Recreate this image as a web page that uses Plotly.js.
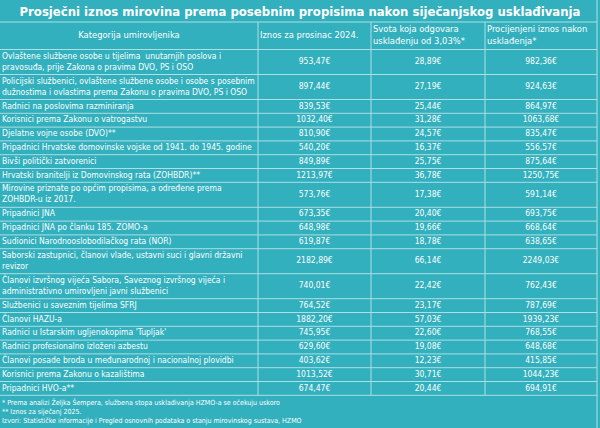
<!DOCTYPE html>
<html>
<head>
<meta charset="utf-8">
<script src="https://cdn.plot.ly/plotly-3.0.1.min.js"></script>
<style>html,body{margin:0;padding:0;background:#31b0bd;}#chart{width:600px;height:428px;}</style>
</head>
<body>
<div id="chart"></div>
<script>
const titleText = "Prosječni iznos mirovina prema posebnim propisima nakon siječanjskog usklađivanja";
const headers = ["Kategorija umirovljenika", "Iznos za prosinac 2024.", "Svota koja odgovara<br>usklađenju od 3,03%*", "Procijenjeni iznos nakon<br>usklađenja*"];
const categories = [
  "Ovlaštene službene osobe u tijelima  unutarnjih poslova i<br>pravosuđa, prije Zakona o pravima DVO, PS i OSO",
  "Policijski službenici, ovlaštene službene osobe i osobe s posebnim<br>dužnostima i ovlastima prema Zakonu o pravima DVO, PS i OSO",
  "Radnici na poslovima razminiranja",
  "Korisnici prema Zakonu o vatrogastvu",
  "Djelatne vojne osobe (DVO)**",
  "Pripadnici Hrvatske domovinske vojske od 1941. do 1945. godine",
  "Bivši politički zatvorenici",
  "Hrvatski branitelji iz Domovinskog rata (ZOHBDR)**",
  "Mirovine priznate po općim propisima, a određene prema<br>ZOHBDR-u iz 2017.",
  "Pripadnici JNA",
  "Pripadnici JNA po članku 185. ZOMO-a",
  "Sudionici Narodnooslobodilačkog rata (NOR)",
  "Saborski zastupnici, članovi vlade, ustavni suci i glavni državni<br>revizor",
  "Članovi izvršnog vijeća Sabora, Saveznog izvršnog vijeća i<br>administrativno umirovljeni javni službenici",
  "Službenici u saveznim tijelima SFRJ",
  "Članovi HAZU-a",
  "Radnici u Istarskim ugljenokopima 'Tupljak'",
  "Radnici profesionalno izloženi azbestu",
  "Članovi posade broda u međunarodnoj i nacionalnoj plovidbi",
  "Korisnici prema Zakonu o kazalištima",
  "Pripadnici HVO-a**"
];
const amountDec2024 = [953.47, 897.44, 839.53, 1032.40, 810.90, 540.20, 849.89, 1213.97, 573.76, 673.35, 648.98, 619.87, 2182.89, 740.01, 764.52, 1882.20, 745.95, 629.60, 403.62, 1013.52, 674.47];
const adjustment303 = [28.89, 27.19, 25.44, 31.28, 24.57, 16.37, 25.75, 36.78, 17.38, 20.40, 19.66, 18.78, 66.14, 22.42, 23.17, 57.03, 22.60, 19.08, 12.23, 30.71, 20.44];
const estimatedAfter = [982.36, 924.63, 864.97, 1063.68, 835.47, 556.57, 875.64, 1250.75, 591.14, 693.75, 668.64, 638.65, 2249.03, 762.43, 787.69, 1939.23, 768.55, 648.68, 415.85, 1044.23, 694.91];
const footnotes = [
  "* Prema analizi Željka Šempera, službena stopa usklađivanja HZMO-a se očekuju uskoro",
  "** Iznos za siječanj 2025.",
  "Izvori: Statističke informacije i Pregled osnovnih podataka o stanju mirovinskog sustava, HZMO"
];

// ---- styling / layout (not data) ----
const fmt = v => v.toFixed(2).replace('.', ',') + '€';
const TEAL = '#32b0bd';
const LINE = '#addfe5';
const FONT = '"Liberation Sans Narrow", "DejaVu Sans Condensed", Roboto, sans-serif';
const W = 600, H = 428;
const colEdges = [0, 258, 371, 485, 597];
const titleBottom = 22, headerBottom = 49.5;
const singleH = 13.8, doubleH = 25;

const lineCount = s => s.split('<br>').length;
const rowH = categories.map(c => lineCount(c) > 1 ? doubleH : singleH);
const rowTops = [];
let acc = headerBottom;
rowH.forEach(h => { rowTops.push(acc); acc += h; });
const tableBottom = acc;
const rowCenters = rowTops.map((t, i) => t + rowH[i] / 2);
const colCenter = j => (colEdges[j] + colEdges[j + 1]) / 2;

const bodyFont = {family: FONT, size: 8.5, color: 'white'};
const textTrace = (xs, ys, texts, pos, font) => ({
  type: 'scatter', mode: 'text', x: xs, y: ys, text: texts,
  textposition: pos, textfont: font, hoverinfo: 'skip', showlegend: false, cliponaxis: false
});

const traces = [
  textTrace(categories.map(() => colEdges[0] + 2), rowCenters, categories, 'middle right', bodyFont),
  textTrace(amountDec2024.map(() => colCenter(1)), rowCenters, amountDec2024.map(fmt), 'middle center', bodyFont),
  textTrace(adjustment303.map(() => colCenter(2)), rowCenters, adjustment303.map(fmt), 'middle center', bodyFont),
  textTrace(estimatedAfter.map(() => colCenter(3)), rowCenters, estimatedAfter.map(fmt), 'middle center', bodyFont),
  textTrace(
    headers.map((h, j) => j === 0 ? colCenter(0) : colEdges[j] + 2),
    headers.map(() => (titleBottom + headerBottom) / 2),
    headers,
    headers.map((h, j) => j === 0 ? 'middle center' : 'middle right'),
    {family: FONT, size: 9.3, color: 'white'}
  )
];

const shapes = [];
const hline = (y, x0, x1) => shapes.push({type: 'line', xref: 'x', yref: 'y', x0: x0, x1: x1, y0: y, y1: y, line: {color: LINE, width: 1}});
const vline = (x, y0, y1) => shapes.push({type: 'line', xref: 'x', yref: 'y', x0: x, x1: x, y0: y0, y1: y1, line: {color: LINE, width: 1}});
hline(titleBottom, 0, colEdges[4]);
hline(headerBottom, 0, colEdges[4]);
rowTops.forEach((t, i) => hline(t + rowH[i], 0, colEdges[4]));
[1, 2, 3].forEach(j => vline(colEdges[j], titleBottom, tableBottom));
vline(colEdges[4], 0, H);

const annotations = footnotes.map((t, i) => ({
  text: t, xref: 'x', yref: 'y', x: 0, xanchor: 'left',
  y: 402.3 + i * 9.2, yanchor: 'middle', showarrow: false,
  font: {family: FONT, size: 7, color: 'white'}
}));

const layout = {
  width: W, height: H,
  margin: {l: 0, r: 0, t: 0, b: 0},
  paper_bgcolor: TEAL,
  plot_bgcolor: TEAL,
  xaxis: {range: [0, W], visible: false, fixedrange: true},
  yaxis: {range: [H, 0], visible: false, fixedrange: true},
  title: {
    text: titleText,
    x: 0.5, xanchor: 'center', xref: 'paper',
    y: 1 - 11 / H, yanchor: 'middle', yref: 'container',
    font: {family: FONT, size: 13, weight: 'bold', color: 'white'}
  },
  annotations: annotations,
  shapes: shapes,
  showlegend: false
};

Plotly.newPlot('chart', traces, layout, {displayModeBar: false, staticPlot: true});
</script>
</body>
</html>
